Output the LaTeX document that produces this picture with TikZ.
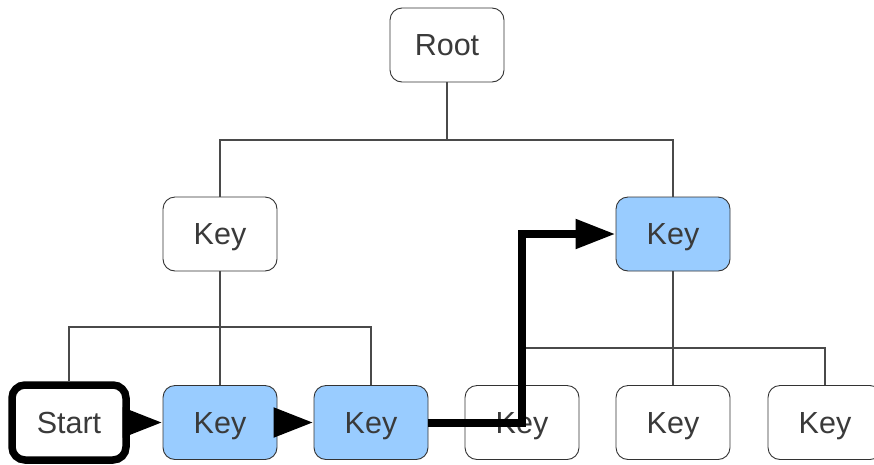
\documentclass[tikz,border=0pt]{standalone}
\usepackage{fontspec}
\setmainfont{Liberation Sans}
\usetikzlibrary{arrows.meta, positioning}
\definecolor{keyblue}{HTML}{99CCFF}
\definecolor{boxline}{HTML}{333333}
\definecolor{keytext}{HTML}{3A3A3A}
\definecolor{busline}{HTML}{4A4A4A}
\tikzset{
  keybox/.style   = {rectangle, rounded corners=12pt, draw=boxline,
                     line width=0.9pt, fill=white, minimum width=114pt,
                     minimum height=74pt, inner sep=0pt, text=keytext,
                     text depth=0pt, font=\fontsize{30.5}{36}\selectfont},
  keyhit/.style   = {keybox, fill=keyblue},
  startbox/.style = {keybox, draw=black, line width=7.5pt, rounded corners=13pt,
                     minimum width=114pt, minimum height=75pt},
  treeline/.style = {draw=busline, line width=1.1pt},
  walkline/.style = {draw=black, line width=8pt,
                     -{Triangle[length=40pt, width=28pt]}},
}
\begin{document}
\begin{tikzpicture}[x=1pt, y=-1pt]
  \useasboundingbox (0,0) rectangle (874,464);
  \coordinate (rootbus) at (447,140);
  \coordinate (leftbus) at (220,327);
  \coordinate (rightbus) at (673,348);
  \coordinate (turn) at (522,234);
  % nodes
  \node[keybox] (root) at (447,45) {Root};
  \node[keybox] (keyl) at (220,234) {Key};
  \node[keyhit] (keyr) at (673,234) {Key};
  \node[keyhit] (leafa) at (220,422.5) {Key};
  \node[keyhit] (leafb) at (371,422.5) {Key};
  \node[keybox] (leafc) at (522,422.5) {Key};
  \node[keybox] (leafd) at (673,422.5) {Key};
  \node[keybox] (leafe) at (825,422.5) {Key};
  % tree
  \draw[treeline] (root) -- (rootbus);
  \draw[treeline] (keyl.north) |- (rootbus) -| (keyr.north);
  \draw[treeline] (keyl) -- (leafa);
  \draw[treeline] (keyr) -- (leafd);
  \draw[treeline] (leafc.north) |- (rightbus) -| (leafe.north);
  \node[startbox] (start) at (69,422.5) {Start};
  \draw[treeline] (start.north) |- (leftbus) -| (leafb.north);
  % walk
  \draw[walkline] (start) -- (leafa);
  \draw[walkline] (leafa) -- (leafb);
  \draw[walkline, rounded corners=0pt] (leafb.east) -| (turn) -- (keyr.west);
\end{tikzpicture}
\end{document}
